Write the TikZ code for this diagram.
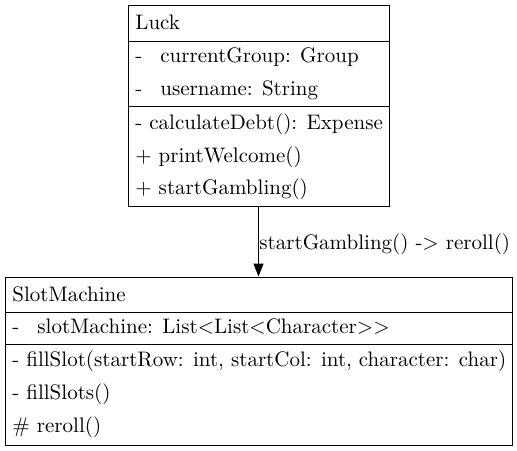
\documentclass[tikz,border=0pt]{standalone}
\usetikzlibrary{arrows.meta,positioning}

\tikzset{
  umlbox/.style={draw, line width=0.5pt, inner sep=0pt},
  row/.style={anchor=base west, inner sep=0pt, font=\fontsize{10.5}{13}\selectfont},
  link/.style={line width=0.5pt, -{Triangle[length=6.5pt,width=5pt]}}
}
\newcommand{\attr}[1]{-\hspace{9pt}#1}

\begin{document}
\begin{tikzpicture}[x=0.5pt, y=-0.5pt]
  \useasboundingbox (0,0) rectangle (517,450);

  % class Luck
  \node[umlbox, minimum width=130.5pt, minimum height=100.5pt] (luck) at (258.5,105.5) {};
  \draw[line width=0.5pt] (128,41) -- (389,41);
  \draw[line width=0.5pt] (128,106.5) -- (389,106.5);
  \node[row] (luckname) at (135,29.5) {Luck};
  \node[row] (luckgroup) at (135,62.5) {\attr{currentGroup: Group}};
  \node[row] (luckuser) at (135,95.5) {\attr{username: String}};
  \node[row] (luckdebt) at (135,129) {- calculateDebt(): Expense};
  \node[row] (luckwelcome) at (135,162) {+ printWelcome()};
  \node[row] (luckgamble) at (135,194.5) {+ startGambling()};

  % class SlotMachine
  \node[umlbox, minimum width=253.5pt, minimum height=84pt] (slot) at (258.5,361) {};
  \draw[line width=0.5pt] (5,312) -- (512,312);
  \draw[line width=0.5pt] (5,344) -- (512,344);
  \node[row] (slotname) at (12,301) {SlotMachine};
  \node[row] (slotgrid) at (12,333) {\attr{slotMachine: List<List<Character>{}>}};
  \node[row] (slotfill) at (12,366) {- fillSlot(startRow: int, startCol: int, character: char)};
  \node[row] (slotfills) at (12,399) {- fillSlots()};
  \node[row] (slotreroll) at (12,432) {\# reroll()};

  % call
  \draw[link] (luck.south) -- (slot.north);
  \node[row] (calllabel) at (259,249) {startGambling() -> reroll()};
\end{tikzpicture}
\end{document}
